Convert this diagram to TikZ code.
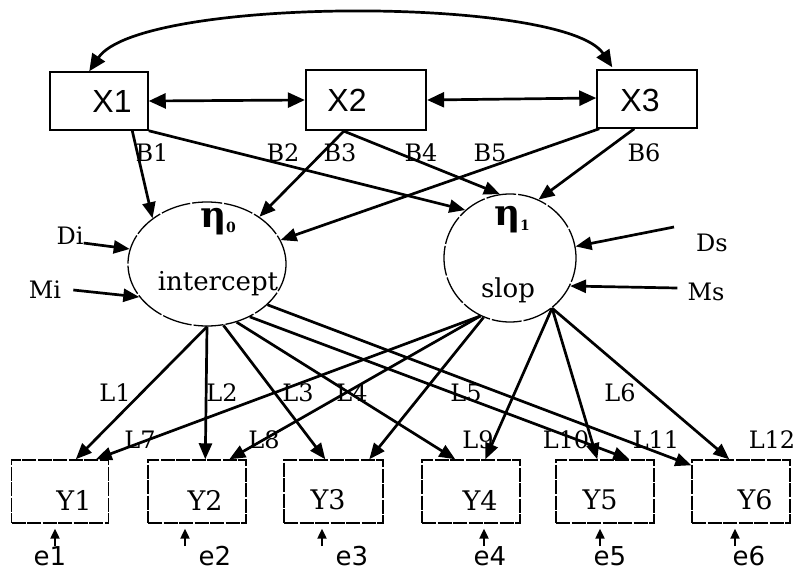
\documentclass[tikz,border=0pt]{standalone}
\usepackage{fontspec}
\setmainfont{DejaVu Serif}
\newfontfamily\xfont{Liberation Sans}
\newfontfamily\efont{DejaVu Sans}
\usetikzlibrary{arrows.meta,shapes.geometric,calc}
\begin{document}
\begin{tikzpicture}[x=1pt,y=-1pt,
  tip/.style={-{Triangle[length=16pt,width=13pt]}},
  arr/.style={line width=2.7pt,tip},
  dbl/.style={line width=2.7pt,{Triangle[length=17pt,width=15pt]}-{Triangle[length=17pt,width=15pt]}},
  sarr/.style={line width=2.2pt,-{Triangle[length=10pt,width=9pt]}},
  xbox/.style={draw,line width=1.5pt,inner sep=0pt,minimum height=58pt},
  ybox/.style={draw,line width=1.4pt,dash pattern=on 14pt off 1.5pt,inner sep=0pt,minimum height=63pt,minimum width=97pt},
  lv/.style={draw,line width=1.3pt,dash pattern=on 30pt off 2pt,ellipse,inner sep=0pt},
  lbl/.style={font=\fontsize{24}{24}\selectfont,inner sep=0pt},
  xlbl/.style={font=\xfont\fontsize{32}{32}\selectfont,inner sep=0pt},
  ylbl/.style={font=\fontsize{27}{27}\selectfont,inner sep=0pt},
  ilbl/.style={font=\fontsize{26}{26}\selectfont,inner sep=0pt},
  elbl/.style={font=\efont\fontsize{26}{26}\selectfont,inner sep=0pt},
  etalbl/.style={font=\bfseries\fontsize{36}{36}\selectfont,inner sep=0pt}
]
\useasboundingbox (0,0) rectangle (801,571);
% X boxes
\node[xbox,minimum width=98pt] (X1) at (99,101) {};
\node[xbox,minimum width=120pt,minimum height=60pt,line width=2.3pt] (X2) at (366,100) {};
\node[xbox,minimum width=100pt] (X3) at (647,99) {};
\node[xlbl] (tX1) at (112,101) {X1};
\node[xlbl] (tX2) at (347,100) {X2};
\node[xlbl] (tX3) at (640,100) {X3};
% latent variables
\node[lv,minimum width=158pt,minimum height=124pt] (int) at (207,264) {};
\node[lv,minimum width=132pt,minimum height=128pt] (slp) at (510,258) {};
\node[etalbl] (eta0) at (218,222) {η\raisebox{-5pt}{\fontsize{14}{14}\selectfont 0}};
\node[etalbl] (eta1) at (512,220) {η\raisebox{-5pt}{\fontsize{14}{14}\selectfont 1}};
\node[ilbl] (tint) at (218,284) {intercept};
\node[ilbl] (tslp) at (508,290) {slop};
% Y boxes
\node[ybox] (Y1) at (60,491.5) {};
\node[ybox,minimum width=98pt] (Y2) at (197,491.5) {};
\node[ybox,minimum width=99pt] (Y3) at (333.5,491.5) {};
\node[ybox,minimum width=98pt] (Y4) at (471,491.5) {};
\node[ybox,minimum width=98pt] (Y5) at (605,491.5) {};
\node[ybox,minimum width=98pt] (Y6) at (741,491.5) {};
\node[ylbl] (tY1) at (74,500) {Y1};
\node[ylbl] (tY2) at (205,500) {Y2};
\node[ylbl] (tY3) at (328,500) {Y3};
\node[ylbl] (tY4) at (480,500) {Y4};
\node[ylbl] (tY5) at (600,500) {Y5};
\node[ylbl] (tY6) at (755,500) {Y6};
% curved covariance and double arrows
\draw[dbl] ($(X1.north west)+(40,0)$) .. controls (140,-4) and (565,-4) .. ($(X3.north west)+(16,-2)$);
\draw[dbl] (X1.east) -- (X2.west);
\draw[dbl] (X2.east) -- ($(X3.west)+(0,-1)$);
% structural paths
\draw[arr] ($(X1.south west)+(83,0)$) -- (int.140);
\draw[arr] (X1.south east) -- (slp.133);
\draw[arr] ($(X2.south west)+(39,0)$) -- (int.42);
\draw[arr] ($(X2.south west)+(39,0)$) -- (slp.99);
\draw[arr] ($(X3.south west)+(3,0)$) -- (int.18);
\draw[arr] ($(X3.south west)+(38,0)$) -- (slp.64);
\node[lbl] (B1) at (152,153) {B1};
\node[lbl] (B2) at (283,153) {B2};
\node[lbl] (B3) at (340,153) {B3};
\node[lbl] (B4) at (421,153) {B4};
\node[lbl] (B5) at (490,153) {B5};
\node[lbl] (B6) at (644,153) {B6};
% disturbances and means
\node[lbl] (Di) at (70,236) {Di};
\node[lbl] (Mi) at (45,290) {Mi};
\node[lbl] (Ds) at (712,243) {Ds};
\node[lbl] (Ms) at (706,292) {Ms};
\draw[arr] ($(Di.south east)+(0,-2)$) -- (int.169);
\draw[arr] ($(Mi.east)+(12,0)$) -- (int.206);
\draw[arr] ($(Ds.west)+(-22,-16)$) -- (slp.10);
\draw[arr] ($(Ms.west)+(-10,-4)$) -- (slp.335);
% loadings from intercept
\draw[arr] (int.270) -- ($(Y1.north west)+(65,0)$);
\draw[arr] (int.270) -- ($(Y2.north west)+(58,0)$);
\draw[arr] (int.285) -- ($(Y3.north west)+(42,0)$);
\draw[arr] (int.297) -- ($(Y4.north west)+(34,0)$);
\draw[arr] (int.309) -- ($(Y5.north west)+(74,0)$);
\draw[arr] (int.326) -- ($(Y6.north west)+(0,6)$);
% loadings from slope
\draw[arr] (slp.243) -- ($(Y1.north west)+(85,0)$);
\draw[arr] (slp.243) -- ($(Y2.north west)+(82,0)$);
\draw[arr] (slp.246) -- ($(Y3.north west)+(86,0)$);
\draw[arr] (slp.310) -- ($(Y4.north west)+(64,0)$);
\draw[arr] (slp.310) -- ($(Y5.north west)+(42,0)$);
\draw[arr] (slp.310) -- ($(Y6.north west)+(38,0)$);
\node[lbl] (L1) at (115,393) {L1};
\node[lbl] (L2) at (222,393) {L2};
\node[lbl] (L3) at (298,393) {L3};
\node[lbl] (L4) at (352,393) {L4};
\node[lbl] (L5) at (466,393) {L5};
\node[lbl] (L6) at (620,393) {L6};
\node[lbl] (L7) at (140,440) {L7};
\node[lbl] (L8) at (264,440) {L8};
\node[lbl] (L9) at (478,440) {L9};
\node[lbl] (L10) at (566,440) {L10};
\node[lbl] (L11) at (656,440) {L11};
\node[lbl] (L12) at (772,440) {L12};
% errors
\node[elbl] (e1) at (50,556) {e1};
\node[elbl] (e2) at (215,556) {e2};
\node[elbl] (e3) at (352,556) {e3};
\node[elbl] (e4) at (490,556) {e4};
\node[elbl] (e5) at (610,556) {e5};
\node[elbl] (e6) at (749,556) {e6};
\coordinate (a1) at (55,546);
\coordinate (a2) at (185,546);
\coordinate (a3) at (322,546);
\coordinate (a4) at (484,546);
\coordinate (a5) at (600,546);
\coordinate (a6) at (735,546);
\draw[sarr] (a1) -- ($(a1 |- Y1.south)+(0,5)$);
\draw[sarr] (a2) -- ($(a2 |- Y2.south)+(0,5)$);
\draw[sarr] (a3) -- ($(a3 |- Y3.south)+(0,5)$);
\draw[sarr] (a4) -- ($(a4 |- Y4.south)+(0,5)$);
\draw[sarr] (a5) -- ($(a5 |- Y5.south)+(0,5)$);
\draw[sarr] (a6) -- ($(a6 |- Y6.south)+(0,5)$);
\end{tikzpicture}
\end{document}
